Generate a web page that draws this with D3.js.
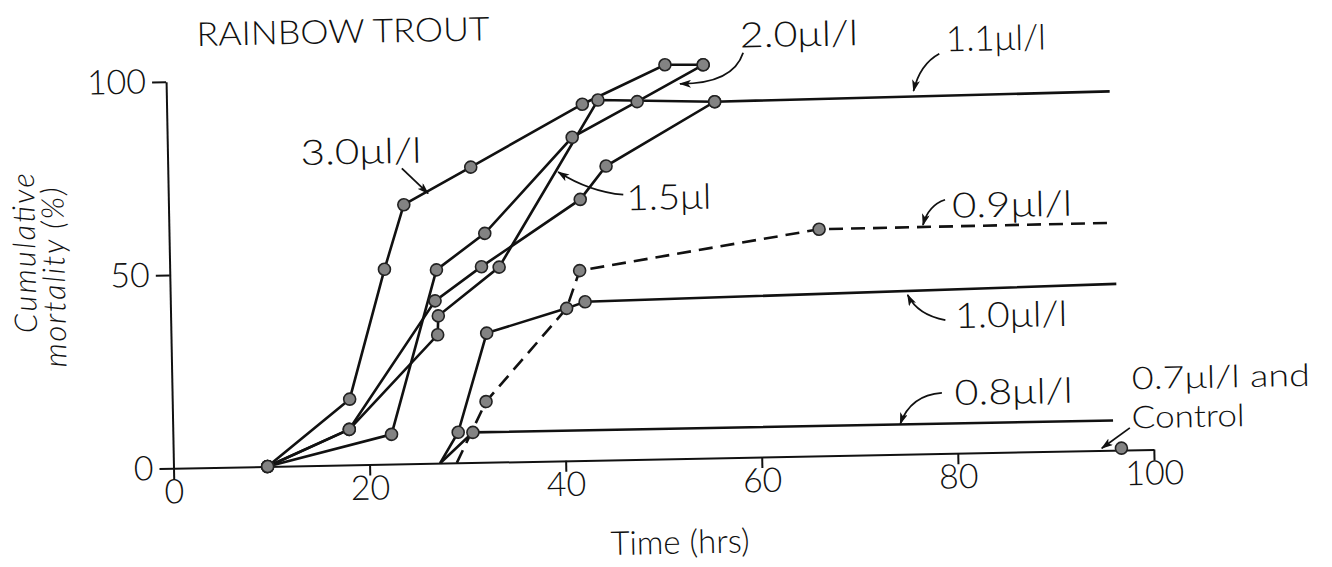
<!DOCTYPE html>
<html>
<head>
<meta charset="utf-8">
<title>Rainbow trout</title>
<script src="https://d3js.org/d3.v7.min.js"></script>
<style>
  body { margin: 0; background: #fff; }
  text { font-family: 'Lato', 'DejaVu Sans', sans-serif; font-weight: 300; fill: #111; }
  .axis path, .axis line { stroke: #111; stroke-width: 2; }
</style>
</head>
<body>
<div id="chart"></div>
<script>
// each point: [hours, cumulative mortality %, 1 = drawn with a dot]
var s30 = [[9.6,0,1],[18.1,17.0,1],[21.9,50.4,1],[24.0,67.0,1],[30.9,76.4,1],[42.4,92.1,1],[50.9,101.9,1],[54.8,101.7,1]];
var s20 = [[9.6,0,1],[22.3,7.7,1],[27.2,50.0,1],[32.2,59.2,1],[41.3,83.6,1],[48.0,92.5,1],[54.8,101.7,1]];
var s15 = [[9.6,0,1],[18.0,9.2,1],[27.2,33.2,1],[27.3,38.1,1],[33.6,50.4,1],[44.0,93.1,1],[55.9,92.1,1]];
var s11 = [[9.6,0,1],[18.0,9.2,1],[27.0,42.0,1],[31.8,50.6,1],[42.0,67.5,1],[44.7,76.0,1],[55.9,92.1,1],[96.2,92.8,0]];
var s10 = [[27.2,0,0],[29.1,7.9,1],[32.2,33.4,1],[40.4,39.4,1],[42.3,41.0,1],[96.5,43.0,0]];
var s09 = [[28.9,0,0],[32.0,15.7,1],[40.4,39.4,0],[41.8,49.1,1],[66.3,58.6,1],[96.2,58.8,0]];
var s08 = [[27.2,0,0],[30.6,7.8,1],[95.9,7.7,0]];
var s07 = [[96.7,0.5,1]];

var xTicks = [0, 20, 40, 60, 80, 100];
var yTicks = [0, 50, 100];

// label text, label anchor (hrs, %), width, font size, arrow: start, [control], tip
var notes = [
  { t: '3.0\u03bcl/l', p: [13.56, 77.8], w: 121, f: 35, a: [[23.87, 76.4], [26.5, 69.8]] },
  { t: '2.0\u03bcl/l', p: [58.6, 106.0], w: 118, f: 35, a: [[58.9, 104.6], [57.8, 96.6], [52.4, 96.9]] },
  { t: '1.1\u03bcl/l', p: [79.6, 104.0], w: 100, f: 35, a: [[78.9, 103.4], [76.9, 100.8], [76.2, 93.9]] },
  { t: '1.5\u03bcl', p: [46.7, 64.5], w: 85, f: 35, a: [[46.4, 68.5], [43.0, 69.4], [39.8, 74.7]] },
  { t: '0.9\u03bcl/l', p: [79.9, 60.9], w: 120, f: 35, a: [[79.2, 65.6], [77.5, 64.3], [76.9, 59.2]] },
  { t: '1.0\u03bcl/l', p: [80.0, 32.4], w: 112, f: 35, a: [[79.0, 34.5], [76.2, 35.9], [75.2, 41.2]] },
  { t: '0.8\u03bcl/l', p: [79.8, 12.5], w: 118, f: 35, a: [[78.5, 15.7], [75.3, 15.3], [74.2, 7.9]] },
  { t: '0.7\u03bcl/l and', p: [97.9, 15.7], w: 178, f: 31, a: null },
  { t: 'Control', p: [97.8, 5.6], w: 113, f: 31, a: [[97.6, 5.7], [94.7, 0.6]] }
];

var W = 1332, H = 567;
var svg = d3.select('#chart').append('svg')
  .attr('width', W)
  .attr('height', H);

svg.append('defs').append('marker')
  .attr('id', 'head')
  .attr('viewBox', '0 0 12 8')
  .attr('refX', 11).attr('refY', 4)
  .attr('markerWidth', 12).attr('markerHeight', 8)
  .attr('markerUnits', 'userSpaceOnUse')
  .attr('orient', 'auto')
  .append('path')
  .attr('d', 'M0,0 L12,4 L0,8 L3,4 z')
  .attr('fill', '#111');

// the scanned page sits a little tilted
var g = svg.append('g')
  .attr('transform', 'translate(173.5,468.3) rotate(-1.1)');

var x = d3.scaleLinear().domain([0, 100]).range([0, 980.5]);
var y = d3.scaleLinear().domain([0, 100]).range([0, -386.7]);

var xAxis = g.append('g').attr('class', 'axis')
  .call(d3.axisBottom(x).tickValues(xTicks).tickSize(11).tickSizeOuter(0).tickPadding(0));
var yAxis = g.append('g').attr('class', 'axis')
  .call(d3.axisLeft(y).tickValues(yTicks).tickSize(14).tickSizeOuter(0).tickPadding(6));

g.selectAll('.axis text')
  .style('font-size', '34px')
  .attr('fill', '#111');

var line = d3.line()
  .x(function(d) { return x(d[0]); })
  .y(function(d) { return y(d[1]); });

var series = [
  { pts: s08, dash: null },
  { pts: s10, dash: null },
  { pts: s09, dash: '14,8' },
  { pts: s11, dash: null },
  { pts: s15, dash: null },
  { pts: s20, dash: null },
  { pts: s30, dash: null },
  { pts: s07, dash: null }
];

series.forEach(function(s) {
  if (s.pts.length > 1) {
    g.append('path')
      .attr('d', line(s.pts))
      .attr('fill', 'none')
      .attr('stroke', '#111')
      .attr('stroke-width', 2.6)
      .attr('stroke-dasharray', s.dash);
  }
});

series.forEach(function(s) {
  g.selectAll(null)
    .data(s.pts.filter(function(d) { return d[2]; }))
    .enter().append('circle')
    .attr('cx', function(d) { return x(d[0]); })
    .attr('cy', function(d) { return y(d[1]); })
    .attr('r', 6)
    .attr('fill', '#838383')
    .attr('stroke', '#222')
    .attr('stroke-width', 1.6);
});

// labels with their arrows
notes.forEach(function(n) {
  g.append('text')
    .attr('x', x(n.p[0]))
    .attr('y', y(n.p[1]))
    .attr('textLength', n.w)
    .attr('lengthAdjust', 'spacingAndGlyphs')
    .style('font-size', n.f + 'px')
    .text(n.t);
  if (!n.a) return;
  var p = n.a.map(function(d) { return [x(d[0]), y(d[1])]; });
  var d = p.length === 3
    ? 'M' + p[0] + 'Q' + p[1] + ' ' + p[2]
    : 'M' + p[0] + 'L' + p[1];
  g.append('path')
    .attr('d', d)
    .attr('fill', 'none')
    .attr('stroke', '#111')
    .attr('stroke-width', 1.8)
    .attr('marker-end', 'url(#head)');
});

g.append('text')
  .attr('x', x(3.2))
  .attr('y', y(109.1))
  .attr('textLength', 293)
  .attr('lengthAdjust', 'spacingAndGlyphs')
  .style('font-size', '33px')
  .text('RAINBOW TROUT');

g.append('text')
  .attr('x', x(51.5))
  .attr('y', y(-24.6))
  .attr('text-anchor', 'middle')
  .style('font-size', '33px')
  .text('Time (hrs)');

var yTitle = g.append('g')
  .attr('transform', 'translate(-134,-218) rotate(-90)');
yTitle.append('text')
  .attr('text-anchor', 'middle')
  .attr('textLength', 160)
  .style('font-size', '31px')
  .style('font-style', 'italic')
  .text('Cumulative');
yTitle.append('text')
  .attr('text-anchor', 'middle')
  .attr('x', -25)
  .attr('y', 29)
  .attr('textLength', 180)
  .style('font-size', '31px')
  .style('font-style', 'italic')
  .text('mortality (%)');
</script>
</body>
</html>
